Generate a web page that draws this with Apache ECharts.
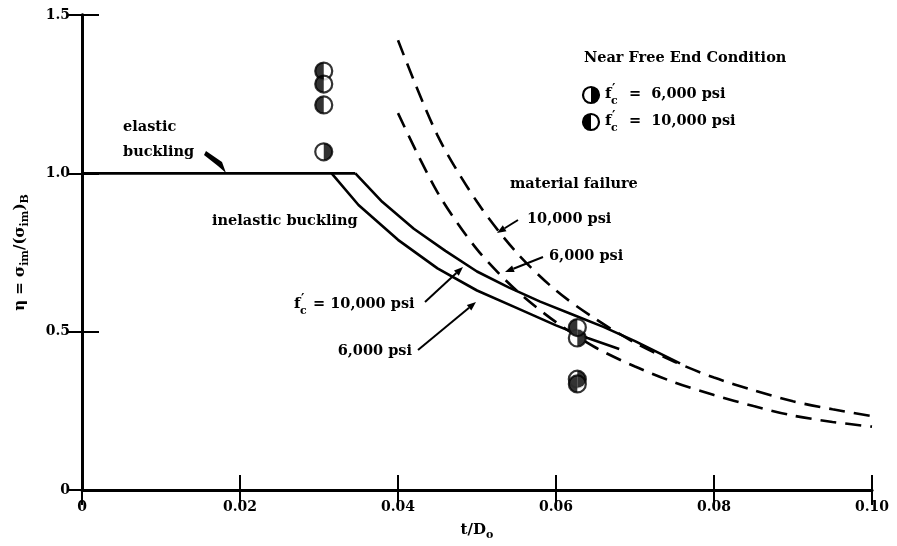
<!DOCTYPE html>
<html><head><meta charset="utf-8">
<script src="https://cdn.jsdelivr.net/npm/echarts@6/dist/echarts.min.js"></script>
<style>html,body{margin:0;padding:0;background:#fff}#c{width:897px;height:546px}</style>
</head><body><div id="c"></div>
<script>
// ---- data ----
const xTickLabels = ['0', '0.02', '0.04', '0.06', '0.08', '0.10'];
const yTickLabels = ['0', '0.5', '1.0', '1.5'];

const elasticT   = [0, 0.0346];
const elasticEta = [1.0, 1.0];

const inelastic10T   = [0.0346, 0.038, 0.042, 0.046, 0.050, 0.054, 0.058, 0.062, 0.066, 0.070, 0.0757];
const inelastic10Eta = [1.0, 0.91, 0.825, 0.755, 0.69, 0.64, 0.595, 0.555, 0.515, 0.47, 0.40];

const inelastic6T   = [0.0316, 0.035, 0.040, 0.045, 0.050, 0.055, 0.060, 0.064, 0.068];
const inelastic6Eta = [1.0, 0.90, 0.79, 0.70, 0.63, 0.575, 0.52, 0.48, 0.445];

const failureT     = [0.040, 0.045, 0.050, 0.055, 0.060, 0.065, 0.070, 0.075, 0.080, 0.085, 0.090, 0.095, 0.100];
const failure10Eta = [1.42, 1.12, 0.91, 0.75, 0.63, 0.54, 0.465, 0.405, 0.355, 0.315, 0.28, 0.255, 0.233];
const failure6Eta  = [1.19, 0.94, 0.76, 0.63, 0.53, 0.45, 0.39, 0.34, 0.30, 0.265, 0.235, 0.215, 0.20];

const test6000T    = [0.0306, 0.0627, 0.0627];
const test6000Eta  = [1.068, 0.48, 0.35];
const test10000T   = [0.0306, 0.0306, 0.0306, 0.0627, 0.0627];
const test10000Eta = [1.323, 1.282, 1.216, 0.513, 0.335];

// ---- build ----
const zip = (a, b) => a.map((v, i) => [v, b[i]]);
const FONT = 'DejaVu Serif';
const black = '#000';
const FS = 14.5;
const rich = {
  n: { fontFamily: FONT, fontWeight: 'bold', fontSize: 15, color: black, lineHeight: 22 },
  s: { fontFamily: FONT, fontWeight: 'bold', fontSize: 11, color: black, lineHeight: 11, verticalAlign: 'bottom' }
};
const solid = (name, d) => ({ type: 'line', name, data: d, showSymbol: false, symbol: 'none', silent: true,
  lineStyle: { color: black, width: 2.6, type: 'solid' }, z: 3 });
const dashed = (name, d) => ({ type: 'line', name, data: d, showSymbol: false, symbol: 'none', smooth: 0.3, silent: true,
  lineStyle: { color: black, width: 2.6, type: [16, 9] }, z: 3 });
const MS = 17;
const circleSeries = (d) => ({ type: 'scatter', data: d, symbol: 'circle', symbolSize: MS, silent: true,
  itemStyle: { color: '#fff', borderColor: black, borderWidth: 2.2 }, z: 5 });
const halfPath = 'path://M0,0 A10,10 0 0,1 0,20 Z';   // right half-disc
const halfPathL = 'path://M10,0 A10,10 0 0,0 10,20 Z'; // left half-disc
const halfSeries = (d, left) => ({ type: 'scatter', data: d, symbol: left ? halfPathL : halfPath,
  symbolSize: [MS / 2, MS], symbolOffset: [left ? -MS / 4 : MS / 4, 0], silent: true,
  itemStyle: { color: black }, z: 6 });

const chart = echarts.init(document.getElementById('c'), null, { renderer: 'canvas' });

function txt(x, y, text, opt) {
  return { type: 'text', x, y, z: 10, style: Object.assign({ text, fontFamily: FONT, fontWeight: 'bold',
    fontSize: FS, fill: black, textVerticalAlign: 'middle' }, opt || {}) };
}
function arrow(x1, y1, x2, y2) {
  const a = Math.atan2(y2 - y1, x2 - x1), L = 9, W = 3.5;
  const bx = x2 - L * Math.cos(a), by = y2 - L * Math.sin(a);
  const px = -Math.sin(a) * W, py = Math.cos(a) * W;
  return [
    { type: 'line', shape: { x1, y1, x2: bx, y2: by }, style: { stroke: black, lineWidth: 2 }, z: 10 },
    { type: 'polygon', shape: { points: [[x2, y2], [bx + px, by + py], [bx - px, by - py]] }, style: { fill: black }, z: 10 }
  ];
}
function legendMarker(cx, cy, left) {
  const r = 8;
  return [
    { type: 'circle', shape: { cx, cy, r }, style: { fill: '#fff', stroke: black, lineWidth: 2.2 }, z: 10 },
    { type: 'sector', shape: { cx, cy, r, startAngle: left ? Math.PI / 2 : -Math.PI / 2, endAngle: left ? 3 * Math.PI / 2 : Math.PI / 2 }, style: { fill: black }, z: 11 }
  ];
}
// f'c label: "f" with prime and subscript c, followed by the rest; anchored on the left
function fc(x, y, rest, gap) {
  return [
    txt(x, y, 'f', { fontSize: 15 }),
    txt(x + 6, y + 7, 'c', { fontSize: 11 }),
    txt(x + 7, y - 4, '′', { fontSize: 13 }),
    txt(x + (gap || 19), y, rest)
  ];
}

const graphics = [].concat(
  txt(123, 127, 'elastic'),
  txt(123, 152, 'buckling'),
  [{ type: 'polygon', shape: { points: [[206, 151], [222, 162], [226, 173], [218, 166], [204, 155]] }, style: { fill: black }, z: 10 }],
  txt(212, 221, 'inelastic buckling'),
  txt(510, 184, 'material failure'),
  txt(527, 219, '10,000 psi'),
  arrow(518, 220, 497, 233),
  txt(549, 256, '6,000 psi'),
  arrow(543, 257, 505, 272),
  fc(294, 304, '= 10,000 psi'),
  arrow(425, 302, 463, 267),
  txt(412, 351, '6,000 psi', { textAlign: 'right' }),
  arrow(418, 350, 476, 302),
  txt(584, 58, 'Near Free End Condition'),
  legendMarker(591, 95, false),
  fc(605, 94, '=  6,000 psi', 24),
  legendMarker(591, 122, true),
  fc(605, 121, '=  10,000 psi', 24)
);

const axisLine = { show: true, lineStyle: { color: black, width: 2.8 } };
const fmtX = v => xTickLabels[Math.round(v / 0.02)];
const fmtY = v => yTickLabels[Math.round(v / 0.5)];

chart.setOption({
  animation: false,
  backgroundColor: '#fff',
  grid: { left: 82, right: 25, top: 15, bottom: 55 },
  xAxis: [
    { type: 'value', min: 0, max: 0.1, interval: 0.02, axisLine, splitLine: { show: false },
      axisTick: { inside: true, length: 15, lineStyle: { color: black, width: 2 } },
      axisLabel: { formatter: fmtX, margin: 10, fontFamily: FONT, fontWeight: 'bold', fontSize: 14, color: black },
      name: '{n|t/D}{s|o}', nameLocation: 'middle', nameGap: 29, nameTextStyle: { rich } },
    { type: 'value', position: 'top', min: 0, max: 0.1, interval: 0.02, axisLine, splitLine: { show: false },
      axisTick: { inside: true, length: 15, lineStyle: { color: black, width: 2 } }, axisLabel: { show: false } }
  ],
  yAxis: [
    { type: 'value', min: 0, max: 1.5, interval: 0.5, axisLine, splitLine: { show: false },
      axisTick: { inside: true, length: 17, lineStyle: { color: black, width: 2 } },
      axisLabel: { formatter: fmtY, margin: 12, fontFamily: FONT, fontWeight: 'bold', fontSize: 14, color: black },
      name: '{n|η = σ}{s|im}{n|/(σ}{s|im}{n|)}{s|B}', nameLocation: 'middle', nameRotate: 90, nameGap: 51,
      nameTextStyle: { rich } },
    { type: 'value', position: 'right', min: 0, max: 1.5, interval: 0.5, axisLine, splitLine: { show: false },
      axisTick: { inside: true, length: 15, lineStyle: { color: black, width: 2 } }, axisLabel: { show: false } }
  ],
  series: [
    solid('elastic', zip(elasticT, elasticEta)),
    solid('inelastic 10000', zip(inelastic10T, inelastic10Eta)),
    solid('inelastic 6000', zip(inelastic6T, inelastic6Eta)),
    dashed('failure 10000', zip(failureT, failure10Eta)),
    dashed('failure 6000', zip(failureT, failure6Eta)),
    circleSeries(zip(test6000T, test6000Eta)),
    halfSeries(zip(test6000T, test6000Eta), false),
    circleSeries(zip(test10000T, test10000Eta)),
    halfSeries(zip(test10000T, test10000Eta), true)
  ],
  graphic: graphics
});
</script></body></html>
